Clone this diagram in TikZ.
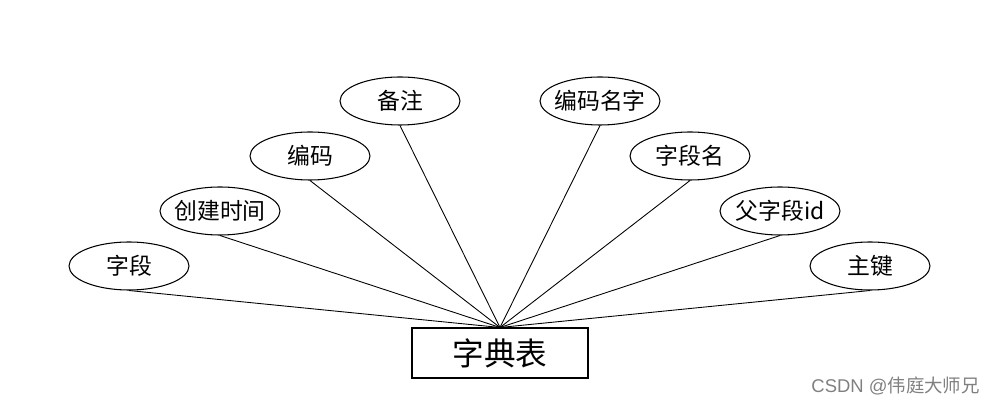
\documentclass[tikz,border=0pt]{standalone}
\usepackage{fontspec}
\setmainfont{Noto Sans CJK SC}
\setsansfont{Liberation Sans}
\usepackage{tikz}
\usetikzlibrary{positioning, shapes.geometric}
\usepackage{xcolor}

\tikzset{
    attr/.style={ellipse, draw, line width=0.6pt, minimum width=2.4cm, minimum height=0.96cm, inner xsep=-0.2cm, inner ysep=0pt, font=\fontsize{13}{14}\selectfont},
    entity/.style={rectangle, draw, line width=0.6pt, minimum width=3.52cm, minimum height=1cm, inner sep=0pt, font=\fontsize{18}{19}\selectfont},
    link/.style={line width=0.5pt}
}

\begin{document}
\begin{tikzpicture}[x=0.02cm, y=-0.02cm]
    \useasboundingbox (0,0) rectangle (1000,408);

    % Entity
    \node[entity] (dict) at (500, 353) {字典表};

    % Attributes, left side
    \node[attr] (field) at (129, 266) {字段};
    \node[attr] (ctime) at (220, 211) {创建时间};
    \node[attr] (code) at (310, 156) {编码};
    \node[attr] (remark) at (400, 101) {备注};

    % Attributes, right side
    \node[attr] (codename) at (600, 101) {编码名字};
    \node[attr] (fname) at (690, 156) {字段名};
    \node[attr] (pid) at (780, 211) {父字段id};
    \node[attr] (pkey) at (870, 266) {主键};

    % Links to the entity
    \foreach \a in {field, ctime, code, remark, codename, fname, pid, pkey}
        \draw[link] (\a.south) -- (dict.north);

    % Watermark
    \node[gray, font=\fontsize{10.5}{11}\selectfont, anchor=east] (mark) at (986, 386) {\sffamily CSDN @\rmfamily 伟庭大师兄};

\end{tikzpicture}
\end{document}
